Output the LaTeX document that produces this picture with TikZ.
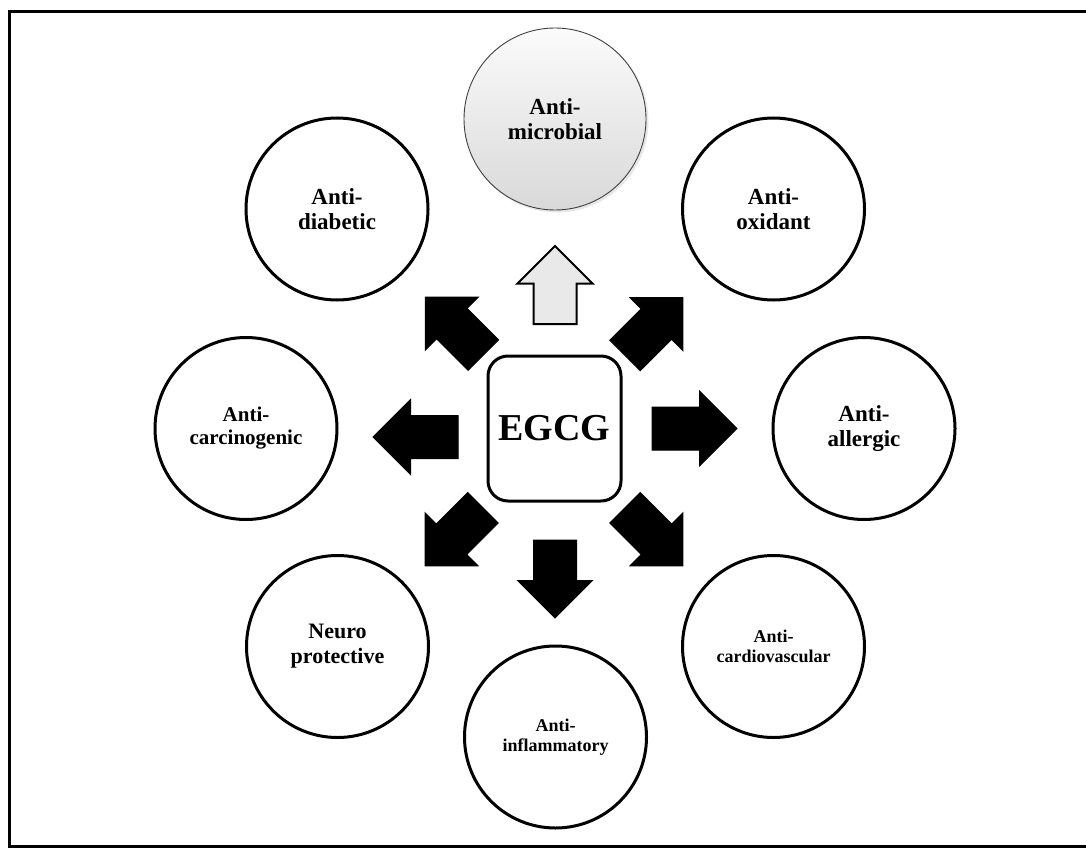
\documentclass[tikz,border=0pt]{standalone}
\usepackage{fontspec}
\setmainfont{Liberation Serif}
\tikzset{
  bubble/.style={circle, draw=black, line width=3pt, minimum size=182pt, inner sep=0pt,
    align=center, font=\bfseries\fontsize{23}{25}\selectfont},
  smalltext/.style={font=\bfseries\fontsize{21}{23}\selectfont},
  tinytext/.style={font=\bfseries\fontsize{18}{20}\selectfont},
  centerbox/.style={draw=black, line width=3pt, rounded corners=20pt, minimum width=133pt,
    minimum height=145pt, inner sep=0pt, font=\bfseries\fontsize{38}{40}\selectfont},
  blockarrow/.pic={
    \path[pic actions] (0,-21.5) -- ({#1-37.5},-21.5) -- ({#1-37.5},-37.5) -- (#1,0)
      -- ({#1-37.5},37.5) -- ({#1-37.5},21.5) -- (0,21.5) -- cycle;
  },
  blackarrow/.style={fill=black, draw=black, line width=1pt},
  grayarrow/.style={fill=gray!17, draw=black, line width=2pt}
}
\begin{document}
\begin{tikzpicture}[x=1pt, y=-1pt]
\useasboundingbox (0,0) rectangle (1086,848);
\clip (0,0) rectangle (1086,848);
\fill[white] (0,0) rectangle (1086,848);
\draw[line width=3pt] (9.5,11.5) rectangle (1110,846.5);

% centre
\node[centerbox] (egcg) at (554.5,428.5) {EGCG};

% surrounding effects
\fill[gray!35, opacity=0.5] (557,121) circle (91.5pt);
\node[bubble, draw=gray!50!black, line width=0.9pt, top color=gray!3, bottom color=gray!30]
  (micro) at (555,119) {Anti-\\microbial};
\node[bubble] (diab) at (337,209) {Anti-\\diabetic};
\node[bubble] (oxid) at (773.5,209) {Anti-\\oxidant};
\node[bubble, smalltext] (carc) at (246,428.5) {Anti-\\carcinogenic};
\node[bubble] (allg) at (864,428.5) {Anti-\\allergic};
\node[bubble, font=\bfseries\fontsize{22}{25}\selectfont] (neuro) at (337.5,646.5) {Neuro\\protective};
\node[bubble, tinytext] (cardio) at (773.5,646.5) {Anti-\\cardiovascular};
\node[bubble, tinytext] (inflam) at (555.5,737) {Anti-\\inflammatory};

% block arrows
\pic[grayarrow, rotate=90] at (555,324) {blockarrow=78};
\pic[blackarrow, rotate=270] at (555,540) {blockarrow=78};
\pic[blackarrow, rotate=180] at (458,437) {blockarrow=85};
\pic[blackarrow, rotate=0] at (652,428.5) {blockarrow=85};
\pic[blackarrow, rotate=135] at (483.3,355) {blockarrow=82};
\pic[blackarrow, rotate=45] at (625,355.5) {blockarrow=82};
\pic[blackarrow, rotate=225] at (483,507.8) {blockarrow=82};
\pic[blackarrow, rotate=315] at (625,507.8) {blockarrow=82};
\end{tikzpicture}
\end{document}
